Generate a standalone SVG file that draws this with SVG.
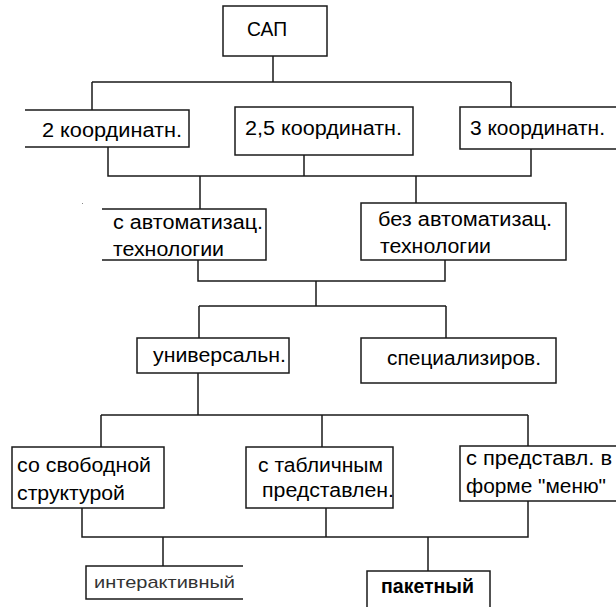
<svg xmlns="http://www.w3.org/2000/svg" width="616" height="607" viewBox="0 0 616 607">
  <style>
    .box { fill: #ffffff; stroke: #1a1a1a; stroke-width: 1.5; }
    .wire { fill: none; stroke: #1a1a1a; stroke-width: 1.5; }
    .t { font-family: "Liberation Sans", Arial, sans-serif; font-size: 20px; fill: #000000; }
    .big { font-size: 21px; }
    .thin { font-size: 17px; fill: #333333; }
    .bold { font-size: 20px; font-weight: bold; }
  </style>
  <rect width="616" height="607" fill="#ffffff"/>

  <g id="connectors">
    <path class="wire" d="M273,56 V82 M92,82 H511 M92,82 V110 M511,82 V107"/>
    <path class="wire" d="M108,147 V176 H531 V149 M304,155 V176"/>
    <path class="wire" d="M200,176 V209 M416,176 V203"/>
    <path class="wire" d="M198,260 V281 H445 V260 M316,281 V306 M199,306 H446 M199,306 V338 M446,306 V338"/>
    <path class="wire" d="M198,373 V415 M101,415 H528 M101,415 V447 M322,415 V447 M528,415 V446"/>
    <path class="wire" d="M82,508 V537 H528 V501 M326,508 V537"/>
    <path class="wire" d="M163,537 V566 M428,537 V571"/>
  </g>

  <g id="sap">
    <rect class="box" x="223" y="6" width="104" height="50"/>
    <text class="t big" x="247" y="36" textLength="40" lengthAdjust="spacingAndGlyphs">САП</text>
  </g>

  <g id="coord2">
    <path class="box" d="M25,110 H189 V147 H25"/>
    <text class="t" x="42" y="137" textLength="140" lengthAdjust="spacingAndGlyphs">2 координатн.</text>
  </g>

  <g id="coord25">
    <rect class="box" x="235" y="107" width="178" height="48"/>
    <text class="t" x="245" y="135" textLength="157" lengthAdjust="spacingAndGlyphs">2,5 координатн.</text>
  </g>

  <g id="coord3">
    <rect class="box" x="460" y="107" width="170" height="42"/>
    <text class="t" x="470" y="135" textLength="135" lengthAdjust="spacingAndGlyphs">3 координатн.</text>
  </g>

  <g id="auto">
    <path class="box" d="M102,209 H266 V260 H102"/>
    <text class="t" x="113" y="229" textLength="150" lengthAdjust="spacingAndGlyphs">с автоматизац.</text>
    <text class="t" x="113" y="256" textLength="111" lengthAdjust="spacingAndGlyphs">технологии</text>
  </g>

  <g id="noauto">
    <rect class="box" x="361" y="203" width="205" height="57"/>
    <text class="t" x="378" y="226" textLength="174" lengthAdjust="spacingAndGlyphs">без автоматизац.</text>
    <text class="t" x="380" y="253" textLength="111" lengthAdjust="spacingAndGlyphs">технологии</text>
  </g>

  <g id="universal">
    <rect class="box" x="137" y="338" width="152" height="35"/>
    <text class="t" x="153" y="362" textLength="133" lengthAdjust="spacingAndGlyphs">универсальн.</text>
  </g>

  <g id="special">
    <rect class="box" x="361" y="338" width="195" height="45"/>
    <text class="t" x="387" y="365" textLength="154" lengthAdjust="spacingAndGlyphs">специализиров.</text>
  </g>

  <g id="free">
    <rect class="box" x="12" y="447" width="152" height="61"/>
    <text class="t" x="17" y="472" textLength="134" lengthAdjust="spacingAndGlyphs">со свободной</text>
    <text class="t" x="17" y="500" textLength="108" lengthAdjust="spacingAndGlyphs">структурой</text>
  </g>

  <g id="table">
    <rect class="box" x="246" y="447" width="147" height="61"/>
    <text class="t" x="258" y="472" textLength="125" lengthAdjust="spacingAndGlyphs">с табличным</text>
    <text class="t" x="262" y="497" textLength="132" lengthAdjust="spacingAndGlyphs">представлен.</text>
  </g>

  <g id="menu">
    <rect class="box" x="460" y="446" width="170" height="55"/>
    <text class="t" x="466" y="465" textLength="146" lengthAdjust="spacingAndGlyphs">с представл. в</text>
    <text class="t" x="466" y="493" textLength="140" lengthAdjust="spacingAndGlyphs">форме "меню"</text>
  </g>

  <g id="interactive">
    <path class="box" d="M243,566 H86 V599 H243"/>
    <text class="t thin" x="94" y="588" textLength="141" lengthAdjust="spacingAndGlyphs">интерактивный</text>
  </g>

  <g id="batch">
    <rect class="box" x="367" y="571" width="123" height="50"/>
    <text class="t bold" x="381" y="593" textLength="93" lengthAdjust="spacingAndGlyphs">пакетный</text>
  </g>

  <rect x="82" y="203" width="1" height="1" fill="#888888"/>
</svg>
